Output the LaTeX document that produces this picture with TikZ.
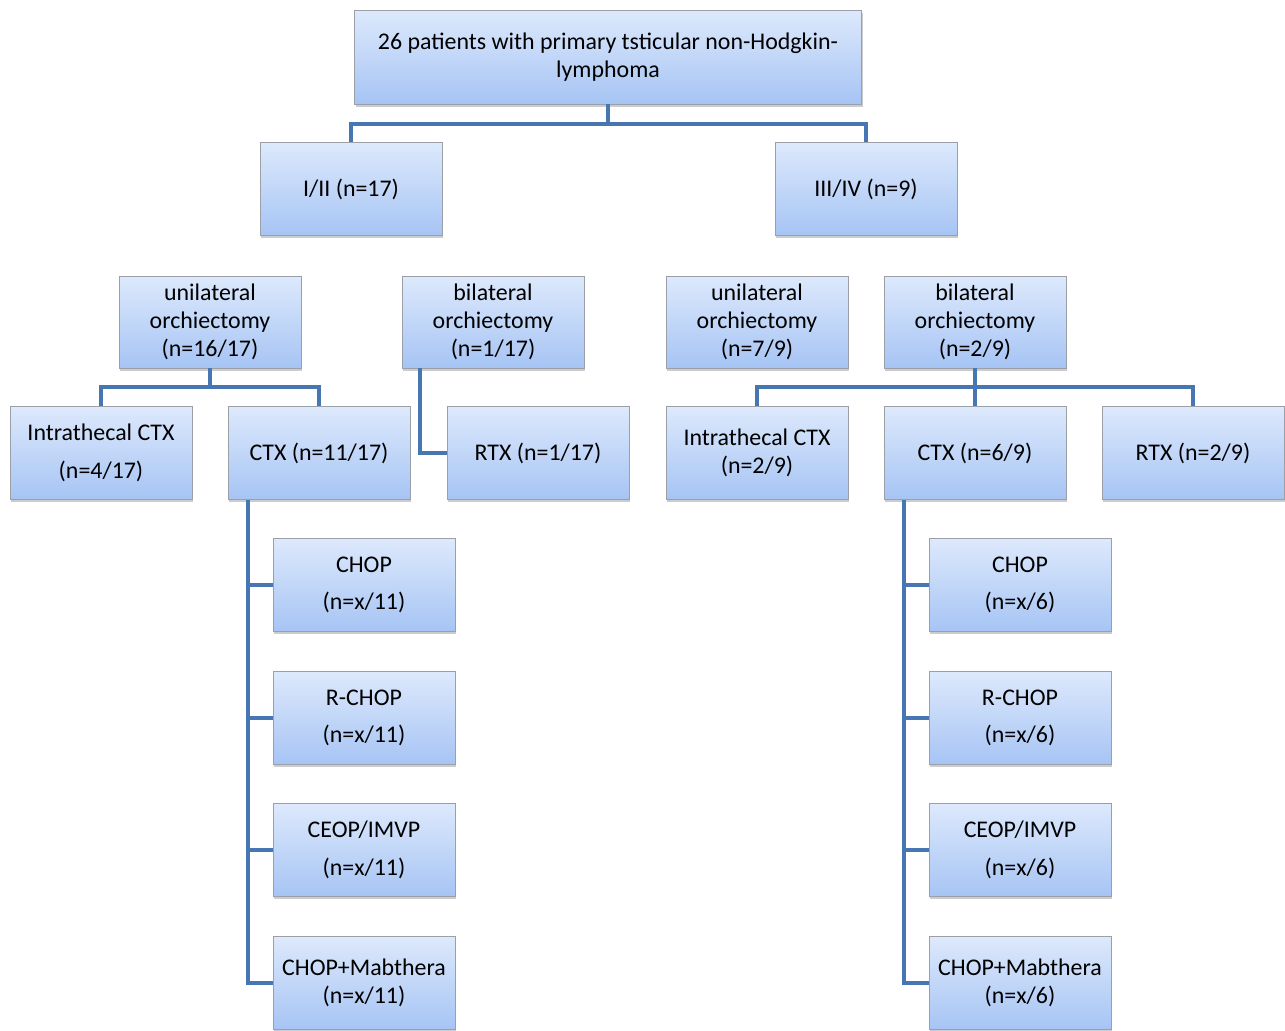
\documentclass[tikz,border=0pt]{standalone}
\usepackage{fontspec}
\setmainfont{Carlito}
\usetikzlibrary{shadows}
\definecolor{linkblue}{HTML}{4677B2}
\definecolor{boxtop}{HTML}{DDE9FC}
\definecolor{boxbot}{HTML}{A6C4F4}
\definecolor{boxline}{HTML}{9A9FA8}

\begin{document}
\begin{tikzpicture}[x=0.02cm,y=-0.02cm,
    box/.style={draw=boxline,line width=0.5pt,top color=boxtop,bottom color=boxbot,
      drop shadow={opacity=0.4,shadow xshift=0.7pt,shadow yshift=-1.7pt},
      minimum width=3.64cm,minimum height=1.86cm,align=center,
      font=\fontsize{13.6}{15.9}\selectfont,inner sep=2pt},
    link/.style={draw=linkblue,line width=2.3pt}]
  \useasboundingbox (0,0) rectangle (1285,1031);
  % top
  \node[box,minimum width=10.14cm,minimum height=1.88cm] (top) at (608,57) {26 patients with primary tsticular non-Hodgkin-\\lymphoma};
  \node[box] (stA) at (351,189) {I/II (n=17)};
  \node[box] (stB) at (866,189) {III/IV (n=9)};
  % orchiectomy
  \node[box,minimum height=1.84cm] (uniL) at (210,322) {unilateral\\orchiectomy\\(n=16/17)};
  \node[box,minimum height=1.84cm] (biL) at (493,322) {bilateral\\orchiectomy\\(n=1/17)};
  \node[box,minimum height=1.84cm] (uniR) at (757,322) {unilateral\\orchiectomy\\(n=7/9)};
  \node[box,minimum height=1.84cm] (biR) at (975,322) {bilateral\\orchiectomy\\(n=2/9)};
  % therapy
  \node[box] (itL) at (101,453) {Intrathecal CTX\\[5.5pt](n=4/17)};
  \node[box] (ctxL) at (319,453) {CTX (n=11/17)};
  \node[box] (rtxL) at (538,453) {RTX (n=1/17)};
  \node[box] (itR) at (757,453) {Intrathecal CTX\\(n=2/9)};
  \node[box] (ctxR) at (975,453) {CTX (n=6/9)};
  \node[box] (rtxR) at (1193,453) {RTX (n=2/9)};
  % regimens
  \node[box] (chopL) at (364,585) {CHOP\\[5.5pt](n=x/11)};
  \node[box] (rchopL) at (364,718) {R-CHOP\\[5.5pt](n=x/11)};
  \node[box] (ceopL) at (364,850) {CEOP/IMVP\\[5.5pt](n=x/11)};
  \node[box] (mabL) at (364,983) {CHOP+Mabthera\\(n=x/11)};
  \node[box] (chopR) at (1020,585) {CHOP\\[5.5pt](n=x/6)};
  \node[box] (rchopR) at (1020,718) {R-CHOP\\[5.5pt](n=x/6)};
  \node[box] (ceopR) at (1020,850) {CEOP/IMVP\\[5.5pt](n=x/6)};
  \node[box] (mabR) at (1020,983) {CHOP+Mabthera\\(n=x/6)};

  \coordinate (barL) at ([xshift=0.4cm]ctxL.south west);
  \coordinate (barR) at ([xshift=0.4cm]ctxR.south west);
  \coordinate (dropB) at ([xshift=0.36cm]biL.south west);

  \draw[link] (top.south) -- ++(0,20) -| (stA.north);
  \draw[link] (top.south) -- ++(0,20) -| (stB.north);
  \draw[link] (uniL.south) -- ++(0,19) -| (itL.north);
  \draw[link] (uniL.south) -- ++(0,19) -| (ctxL.north);
  \draw[link] (dropB) |- (rtxL.west);
  \draw[link] (biR.south) -- ++(0,19) -| (itR.north);
  \draw[link] (biR.south) -- (ctxR.north);
  \draw[link] (biR.south) -- ++(0,19) -| (rtxR.north);
  \draw[link] (barL) |- (mabL.west);
  \draw[link] (barR) |- (mabR.west);
  \foreach \n in {chopL,rchopL,ceopL} \draw[link] (barL |- \n.west) -- (\n.west);
  \foreach \n in {chopR,rchopR,ceopR} \draw[link] (barR |- \n.west) -- (\n.west);
\end{tikzpicture}
\end{document}
